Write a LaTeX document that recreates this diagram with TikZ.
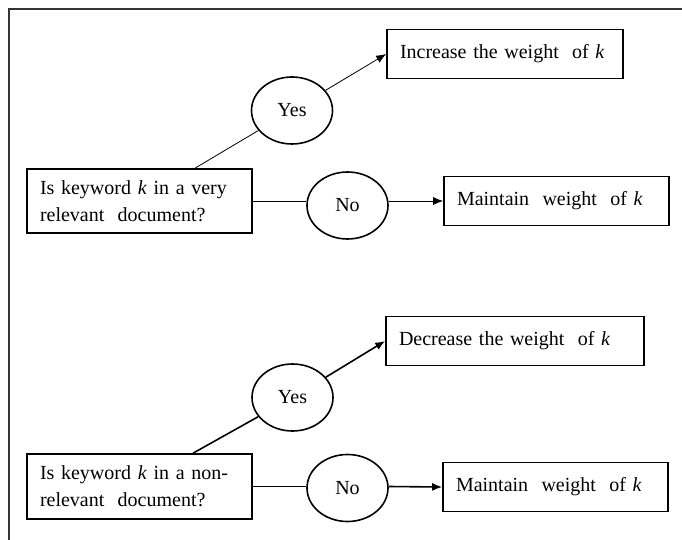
\documentclass[tikz,border=0pt]{standalone}
\usepackage{fontspec}
\setmainfont{Liberation Serif}
\usetikzlibrary{arrows.meta,shapes.geometric}

\begin{document}
\begin{tikzpicture}[x=1pt,y=-1pt,
    font=\fontsize{20}{27}\selectfont,
    qbox/.style={draw,line width=1.6pt,inner xsep=13pt,inner ysep=0pt,align=left,text width=199pt},
    rbox/.style={draw,line width=1.6pt,inner xsep=13pt,inner ysep=0pt,align=left,minimum height=49pt},
    ans/.style={draw,ellipse,line width=1.6pt,inner sep=0pt,minimum width=81pt,minimum height=67pt},
    thinline/.style={line width=0.8pt},
    thickline/.style={line width=1.6pt},
    tip/.style={-{Latex[length=10pt,width=8pt]}}]
    \useasboundingbox (0,0) rectangle (682,540);
    \draw[line width=2pt,black!80] (9,540) -- (9,9) -- (682,9);

    % relevant document
    \node[qbox,minimum height=64pt] (q1) at (139.5,201) {Is keyword \textit{k} in a very\\relevant\ \ document?};
    \node[ans] (yes1) at (292,110.5) {Yes};
    \node[ans] (no1) at (347.5,205.5) {No};
    \node[rbox,text width=210pt] (inc) at (505,54) {Increase the weight\ \ of \textit{k}};
    \node[rbox,text width=199pt] (keep1) at (556.5,201) {Maintain\ \ weight\ \ of \textit{k}};
    \coordinate (q1top) at ([xshift=55.5pt]q1.north);
    \draw[thinline] (q1top) -- (yes1);
    \draw[thinline,tip] (yes1) -- (inc.west);
    \draw[thinline] (q1.east) -- (no1.west |- q1.east);
    \draw[thinline,tip] (no1.east |- q1.east) -- (keep1.west);

    % non-relevant document
    \node[qbox,minimum height=65pt] (q2) at (139.5,486.5) {Is keyword \textit{k} in a non-\\relevant\ \ document?};
    \node[ans] (yes2) at (292.5,397.5) {Yes};
    \node[ans] (no2) at (347.5,488) {No};
    \node[rbox,text width=232pt] (dec) at (515,341) {Decrease the weight\ \ of \textit{k}};
    \node[rbox,text width=199pt] (keep2) at (555.5,487) {Maintain\ \ weight\ \ of \textit{k}};
    \coordinate (q2top) at ([xshift=53.5pt]q2.north);
    \draw[thickline] (q2top) -- (yes2);
    \draw[thickline,tip] (yes2) -- (dec.west);
    \draw[thickline] (q2.east) -- (no2.west |- q2.east);
    \draw[thickline,tip] (no2.east |- q2.east) -- (keep2.west);
\end{tikzpicture}
\end{document}
